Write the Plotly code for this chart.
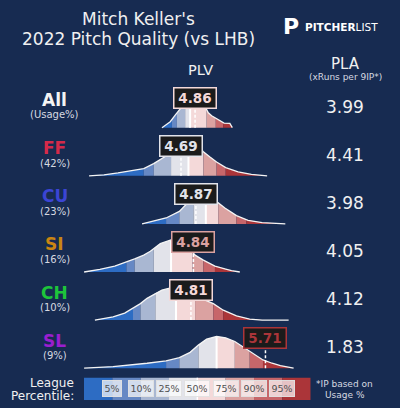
import numpy as np
import plotly.graph_objects as go

W, H = 400, 408
BG = "#172b51"
FONT = "DejaVu Sans"

# ---------------- data ----------------
pitches = ["All", "FF", "CU", "SI", "CH", "SL"]
usage_pct = [None, 42, 23, 16, 10, 9]
plv_values = [4.86, 4.69, 4.87, 4.84, 4.81, 5.71]
pla_values = [3.99, 4.41, 3.98, 4.05, 4.12, 1.83]
label_colors = ["#f4f4f4", "#d42a4a", "#3b45d4", "#c98512", "#1ec43b", "#9a1ecf"]

pct_labels = ["5%", "10%", "25%", "50%", "75%", "90%", "95%"]
band_colors = ["#2d6cc3", "#6688c4", "#a9b7d2", "#e2e3ea",
               "#f4d9d9", "#dba2a1", "#c7666a", "#ab3539"]

# league quantiles of PLV per pitch: min, p5, p10, p25, p50, p75, p90, p95, max
q_all = [4.46, 4.58, 4.64, 4.74, 4.80, 5.00, 5.11, 5.20, 5.31]
q_ff = [3.58, 4.24, 4.36, 4.57, 4.78, 4.96, 5.12, 5.23, 5.73]
q_cu = [4.22, 4.51, 4.67, 4.84, 4.99, 5.14, 5.36, 5.48, 5.95]
q_si = [3.52, 4.03, 4.13, 4.36, 4.57, 4.83, 4.96, 5.10, 5.40]
q_ch = [3.65, 4.11, 4.20, 4.38, 4.63, 4.86, 5.08, 5.20, 5.99]
q_sl = [3.52, 4.51, 4.67, 4.90, 5.12, 5.34, 5.52, 5.68, 6.05]

# density curves (PLV, relative height)
dx_all = [4.46, 4.51, 4.56, 4.62, 4.66, 4.71, 4.77, 4.83, 4.90, 4.97, 5.02, 5.06, 5.12, 5.18, 5.21, 5.28, 5.31]
dy_all = [0.00, 0.09, 0.18, 0.38, 0.51, 0.69, 0.85, 0.91, 0.86, 0.69, 0.45, 0.36, 0.28, 0.18, 0.14, 0.13, 0.00]

dx_ff = [3.58, 3.76, 3.93, 4.09, 4.24, 4.36, 4.46, 4.56, 4.65, 4.75, 4.82, 4.88, 4.96, 5.04, 5.12, 5.23, 5.38, 5.54, 5.73]
dy_ff = [0.00, 0.03, 0.09, 0.15, 0.22, 0.37, 0.53, 0.68, 0.82, 0.94, 1.00, 0.94, 0.73, 0.57, 0.42, 0.25, 0.12, 0.04, 0.00]

dx_cu = [4.22, 4.34, 4.51, 4.67, 4.74, 4.83, 4.92, 4.99, 5.06, 5.12, 5.22, 5.36, 5.50, 5.67, 5.95]
dy_cu = [0.00, 0.08, 0.18, 0.38, 0.57, 0.79, 0.94, 1.00, 0.91, 0.68, 0.48, 0.25, 0.11, 0.04, 0.00]

dx_si = [3.52, 3.71, 3.89, 4.03, 4.13, 4.24, 4.32, 4.44, 4.57, 4.63, 4.70, 4.78, 4.86, 4.96, 5.10, 5.23, 5.30, 5.40]
dy_si = [0.00, 0.08, 0.18, 0.30, 0.40, 0.51, 0.63, 0.86, 0.97, 0.98, 0.92, 0.76, 0.51, 0.36, 0.18, 0.09, 0.04, 0.00]

dx_ch = [3.65, 3.87, 4.01, 4.11, 4.20, 4.28, 4.38, 4.46, 4.54, 4.62, 4.71, 4.82, 4.94, 5.08, 5.20, 5.36, 5.52, 5.67, 5.99]
dy_ch = [0.00, 0.10, 0.21, 0.35, 0.50, 0.66, 0.81, 0.91, 0.96, 0.98, 0.95, 0.82, 0.65, 0.50, 0.30, 0.13, 0.03, 0.00, 0.00]

dx_sl = [3.52, 3.87, 4.28, 4.51, 4.67, 4.80, 4.90, 5.00, 5.12, 5.23, 5.34, 5.44, 5.52, 5.61, 5.68, 5.79, 5.89, 6.05]
dy_sl = [0.00, 0.05, 0.15, 0.22, 0.32, 0.48, 0.70, 0.88, 0.96, 0.92, 0.81, 0.65, 0.50, 0.36, 0.25, 0.15, 0.08, 0.00]

quantiles = [q_all, q_ff, q_cu, q_si, q_ch, q_sl]
dens_x = [dx_all, dx_ff, dx_cu, dx_si, dx_ch, dx_sl]
dens_y = [dy_all, dy_ff, dy_cu, dy_si, dy_ch, dy_sl]

# ---------------- layout helpers ----------------
PX_PER_UNIT = 82.8            # horizontal pixels per PLV unit
X0 = 4.69 - 181 / PX_PER_UNIT  # PLV at left edge
X1 = X0 + W / PX_PER_UNIT
ROW0, STEP = 127.7, 48.1      # baseline of first row (px from top), row spacing
YLO, YHI = -0.05, 1.40
UNIT_PX = 33.0                # pixels per density unit


def row_domain(i):
    base = ROW0 + i * STEP
    bottom = base - YLO * UNIT_PX
    top = bottom - (YHI - YLO) * UNIT_PX
    return [1 - bottom / H, 1 - top / H]


def pct_color(value, q):
    k = int(np.searchsorted(q[1:-1], value, side="right"))
    return band_colors[k]


fig = go.Figure()
layout = dict(
    width=W, height=H, paper_bgcolor=BG, plot_bgcolor=BG,
    margin=dict(l=0, r=0, t=0, b=0), showlegend=False,
    font=dict(family=FONT, color="#f0f0f0"),
    xaxis=dict(domain=[0, 1], range=[X0, X1], visible=False, fixedrange=True, anchor="y"),
)
annotations = []

for i, name in enumerate(pitches):
    ya = "y" if i == 0 else f"y{i + 1}"
    layout["yaxis" if i == 0 else f"yaxis{i + 1}"] = dict(
        domain=row_domain(i), range=[YLO, YHI], visible=False, fixedrange=True, anchor="x")
    q, dx, dy = quantiles[i], np.array(dens_x[i]), np.array(dens_y[i])
    # coloured percentile bands
    for k in range(8):
        lo, hi = q[k], q[k + 1]
        xs = [lo] + [v for v in dx if lo < v < hi] + [hi]
        ys = list(np.interp(xs, dx, dy))
        fig.add_trace(go.Scatter(
            x=xs + [hi, lo], y=ys + [0, 0], fill="toself", mode="lines",
            line=dict(width=0, color=band_colors[k]), fillcolor=band_colors[k],
            yaxis=ya, xaxis="x", hoverinfo="skip"))
    # median line
    med = q[4]
    fig.add_trace(go.Scatter(x=[med, med], y=[0, float(np.interp(med, dx, dy))],
                             mode="lines", line=dict(color="white", width=2),
                             yaxis=ya, xaxis="x", hoverinfo="skip"))
    # outline
    fig.add_trace(go.Scatter(x=dx, y=dy, mode="lines",
                             line=dict(color="#f4f4f4", width=1.3),
                             yaxis=ya, xaxis="x", hoverinfo="skip"))
    # pitcher value dashed line
    v = plv_values[i]
    fig.add_trace(go.Scatter(x=[v, v], y=[0, 0.9], mode="lines",
                             line=dict(color="white", width=1.5, dash="3px,2px"),
                             yaxis=ya, xaxis="x", hoverinfo="skip"))
    tc = pct_color(v, q)
    annotations.append(dict(
        x=v, y=30 / UNIT_PX, xref="x", yref=ya, text=f"<b>{v:.2f}</b>", showarrow=False,
        font=dict(size=13.5, color=tc, family=FONT), bgcolor="#1b1b1b",
        bordercolor=tc, borderwidth=1.5, borderpad=2, width=37, height=15,
        xanchor="center", yanchor="middle"))
    # left labels
    annotations.append(dict(
        x=54.5 / W, y=27.5 / UNIT_PX, xref="paper", yref=ya, text=f"<b>{name}</b>",
        showarrow=False, font=dict(size=17, color=label_colors[i], family=FONT),
        xanchor="center", yanchor="middle"))
    sub = "(Usage%)" if usage_pct[i] is None else f"({usage_pct[i]}%)"
    annotations.append(dict(
        x=54.5 / W, y=12.7 / UNIT_PX, xref="paper", yref=ya, text=sub,
        showarrow=False, font=dict(size=10, color="#d6d9e0", family=FONT),
        xanchor="center", yanchor="middle"))
    # PLA value
    annotations.append(dict(
        x=345 / W, y=20.7 / UNIT_PX, xref="paper", yref=ya, text=f"{pla_values[i]:.2f}",
        showarrow=False, font=dict(size=17, color="#f0f0f0", family=FONT),
        xanchor="center", yanchor="middle"))

# ---------------- percentile colour bar ----------------
layout["xaxis2"] = dict(domain=[84 / W, 310.7 / W], range=[0, 8], visible=False,
                        fixedrange=True, anchor="y7")
layout["yaxis7"] = dict(domain=[1 - 400 / H, 1 - 377.5 / H], range=[0, 1], visible=False,
                        fixedrange=True, anchor="x2")
fig.add_trace(go.Bar(x=[k + 0.5 for k in range(8)], y=[1] * 8, width=1,
                     marker=dict(color=band_colors, line=dict(width=0)),
                     xaxis="x2", yaxis="y7", hoverinfo="skip"))
fig.add_trace(go.Scatter(x=[4, 4], y=[0, 1], mode="lines", line=dict(color="white", width=1.5),
                         xaxis="x2", yaxis="y7", hoverinfo="skip"))
for k, lab in enumerate(pct_labels):
    annotations.append(dict(
        x=k + 1, y=0.5, xref="x2", yref="y7", text=lab, showarrow=False,
        font=dict(size=9.5, color="#505050", family=FONT),
        bgcolor="rgba(255,255,255,0.7)", bordercolor="rgba(225,225,225,0.95)",
        borderwidth=1, borderpad=1.5, height=12, xanchor="center", yanchor="middle"))

# ---------------- titles & text ----------------
def txt(x, y, text, size, color="#f0f0f0", xanchor="center"):
    annotations.append(dict(x=x / W, y=1 - y / H, xref="paper", yref="paper", text=text,
                            showarrow=False, font=dict(size=size, color=color, family=FONT),
                            xanchor=xanchor, yanchor="middle"))

txt(138, 19, "Mitch Keller's", 17)
txt(138, 38.5, "2022 Pitch Quality (vs LHB)", 17)
txt(291, 27, "<b>P</b>", 22, "#ffffff")
txt(341.5, 27.5, "<b>PITCHER</b>LIST", 10.5, "#ffffff")
txt(200, 70, "PLV", 14.5)
txt(345, 64, "PLA", 15)
txt(345, 77, "(xRuns per 9IP*)", 9, "#d6d9e0")
txt(76, 383, "League", 12, xanchor="right")
txt(76, 396, "Percentile:", 12, xanchor="right")
txt(344, 384, "*IP based on", 9, "#d6d9e0")
txt(345, 395, "Usage %", 9, "#d6d9e0")

layout["annotations"] = annotations
fig.update_layout(**layout)
fig.write_html("out.html", config={"displayModeBar": False, "staticPlot": True},
               post_script="document.body.style.margin='0';document.body.style.background='%s';" % BG)
